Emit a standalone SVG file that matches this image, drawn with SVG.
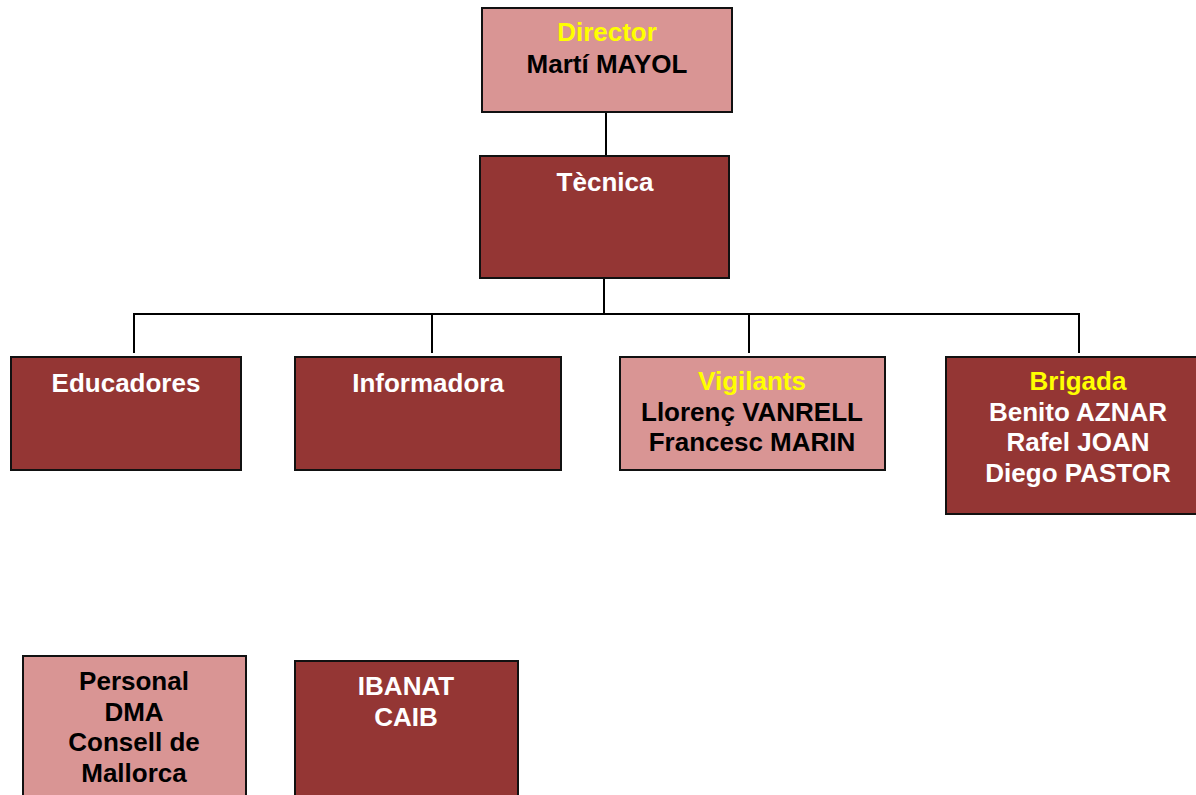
<svg xmlns="http://www.w3.org/2000/svg" width="1196" height="795" viewBox="0 0 1196 795">
<style>
.light{fill:#D99594;stroke:#111;stroke-width:2}
.dark{fill:#943634;stroke:#111;stroke-width:2}
text{font-family:"Liberation Sans",Arial,sans-serif;font-weight:bold;font-size:26px;text-anchor:middle}
.y{fill:#FFFF00}
.w{fill:#FFFFFF}
.k{fill:#000000}
.conn line{stroke:#000;stroke-width:2;fill:none}
</style>
<rect width="1196" height="795" fill="#fff"/>
<g class="conn" id="connectors">
<line x1="606" y1="112" x2="606" y2="156"/>
<line x1="604" y1="278" x2="604" y2="314"/>
<line x1="133" y1="314" x2="1080" y2="314"/>
<line x1="134" y1="314" x2="134" y2="353"/>
<line x1="432" y1="314" x2="432" y2="353"/>
<line x1="749" y1="314" x2="749" y2="353"/>
<line x1="1079" y1="314" x2="1079" y2="353"/>
</g>
<g id="director">
<rect class="light" x="482" y="8" width="250" height="104"/>
<text x="607" y="41" class="y">Director</text>
<text x="607" y="73" class="k">Martí MAYOL</text>
</g>
<g id="tecnica">
<rect class="dark" x="480" y="156" width="249" height="122"/>
<text x="605" y="191" class="w">Tècnica</text>
</g>
<g id="educadores">
<rect class="dark" x="11" y="357" width="230" height="113"/>
<text x="126" y="392" class="w">Educadores</text>
</g>
<g id="informadora">
<rect class="dark" x="295" y="357" width="266" height="113"/>
<text x="428" y="392" class="w">Informadora</text>
</g>
<g id="vigilants">
<rect class="light" x="620" y="357" width="265" height="113"/>
<text x="752" y="390" class="y">Vigilants</text>
<text x="752" y="421" class="k">Llorenç VANRELL</text>
<text x="752" y="451" class="k">Francesc MARIN</text>
</g>
<g id="brigada">
<rect class="dark" x="946" y="357" width="264" height="157"/>
<text x="1078" y="390" class="y">Brigada</text>
<text x="1078" y="421" class="w">Benito AZNAR</text>
<text x="1078" y="451" class="w">Rafel JOAN</text>
<text x="1078" y="482" class="w">Diego PASTOR</text>
</g>
<g id="personal">
<rect class="light" x="23" y="656" width="223" height="160"/>
<text x="134" y="690" class="k">Personal</text>
<text x="134" y="721" class="k">DMA</text>
<text x="134" y="751" class="k">Consell de</text>
<text x="134" y="782" class="k">Mallorca</text>
</g>
<g id="ibanat">
<rect class="dark" x="295" y="661" width="223" height="160"/>
<text x="406" y="695" class="w">IBANAT</text>
<text x="406" y="726" class="w">CAIB</text>
</g>
</svg>
